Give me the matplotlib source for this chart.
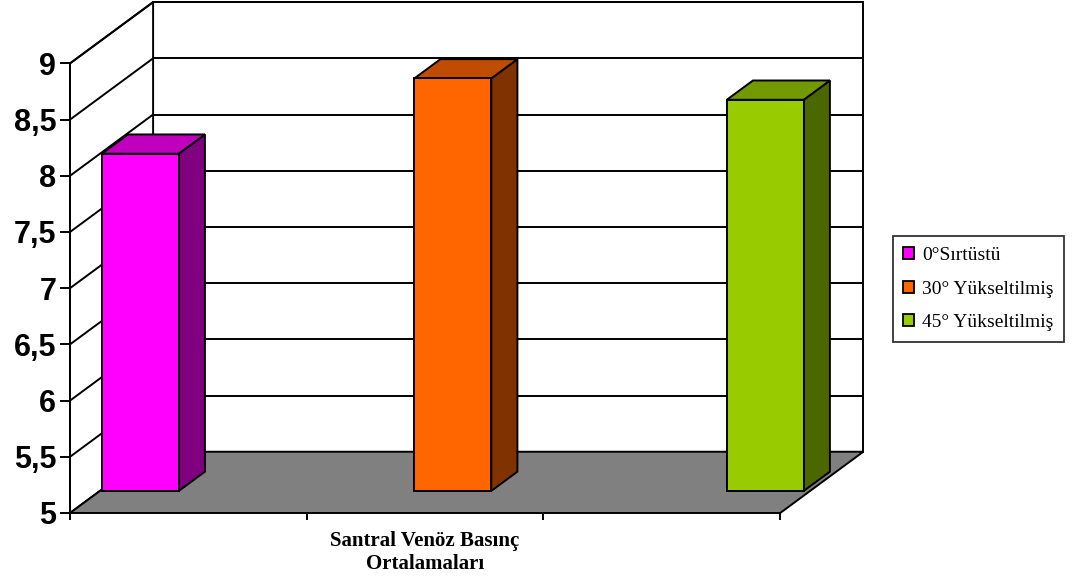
import matplotlib
matplotlib.use("Agg")
import matplotlib.pyplot as plt
from matplotlib.patches import Polygon, Patch

# data
series = ["0°Sırtüstü", "30° Yükseltilmiş", "45° Yükseltilmiş"]
values = [8.0, 8.67, 8.48]
category_label = "Santral Venöz Basınç\nOrtalamaları"
yticks = [5, 5.5, 6, 6.5, 7, 7.5, 8, 8.5, 9]
ytick_labels = ["5", "5,5", "6", "6,5", "7", "7,5", "8", "8,5", "9"]

front_colors = ["#FF00FF", "#FF6600", "#99CC00"]
top_colors = ["#BF00BF", "#BF4C00", "#739900"]
side_colors = ["#800080", "#803300", "#4C6600"]

# layout of the fake 3d box (x in category units, y in value units)
VMIN, VMAX = 5, 9
XW = 3.0
DX, DV = 0.351, 0.545          # depth vector
BAR_D0, BAR_D1 = 0.36, 0.675   # bar depth range
BAR_W = 0.325
BAR_STEP = 1.32
BAR_START = 0.008
LW = 1.4


def proj(x, v, d):
    return (x + d * DX, v + d * DV)


def poly(ax, pts, fc, z):
    ax.add_patch(Polygon([proj(*p) for p in pts], closed=True, facecolor=fc,
                         edgecolor="black", lw=LW, joinstyle="miter", zorder=z))


def line(ax, p1, p2, z=2, lw=LW):
    a, b = proj(*p1), proj(*p2)
    ax.plot([a[0], b[0]], [a[1], b[1]], color="black", lw=lw, zorder=z,
            solid_capstyle="butt")


fig = plt.figure(figsize=(10.82, 5.77), dpi=100)
ax = fig.add_axes([0, 0, 1, 1])
ax.set_xlim(-0.2957, 4.2748)
ax.set_ylim(4.4306, 9.564)
ax.axis("off")

# walls and floor
poly(ax, [(0, VMIN, 1), (XW, VMIN, 1), (XW, VMAX, 1), (0, VMAX, 1)], "white", 1)
poly(ax, [(0, VMIN, 0), (0, VMIN, 1), (0, VMAX, 1), (0, VMAX, 0)], "white", 1)
for v in yticks[1:]:
    line(ax, (0, v, 0), (0, v, 1))
    line(ax, (0, v, 1), (XW, v, 1))
poly(ax, [(0, VMIN, 0), (XW, VMIN, 0), (XW, VMIN, 1), (0, VMIN, 1)], "#808080", 3)

# value axis + ticks
line(ax, (0, VMIN, 0), (0, VMAX, 0), z=3)
for v, lab in zip(yticks, ytick_labels):
    line(ax, (-0.042, v, 0), (0, v, 0), z=3)
    ax.text(-0.058, v, lab, ha="right", va="center_baseline", fontsize=22,
            fontweight="bold", family="Liberation Sans")

# category ticks
for x in range(4):
    line(ax, (x, VMIN - 0.065, 0), (x, VMIN, 0), z=3)
ax.text(XW / 2, VMIN - 0.35, category_label, ha="center", va="center",
        fontsize=15, fontweight="bold", family="Liberation Serif",
        linespacing=1.2)

# bars
for i, v in enumerate(values):
    L = BAR_START + i * BAR_STEP
    R = L + BAR_W
    z = 5 + i
    poly(ax, [(R, VMIN, BAR_D0), (R, VMIN, BAR_D1), (R, v, BAR_D1), (R, v, BAR_D0)],
         side_colors[i], z)
    poly(ax, [(L, v, BAR_D0), (R, v, BAR_D0), (R, v, BAR_D1), (L, v, BAR_D1)],
         top_colors[i], z)
    poly(ax, [(L, VMIN, BAR_D0), (R, VMIN, BAR_D0), (R, v, BAR_D0), (L, v, BAR_D0)],
         front_colors[i], z)

handles = [Patch(facecolor=c, edgecolor="black", lw=1.3) for c in front_colors]
leg = ax.legend(handles, series, loc="center left", bbox_to_anchor=(0.825, 0.499),
                bbox_transform=fig.transFigure, frameon=True, fancybox=False,
                prop={"family": "Liberation Serif", "size": 14},
                handlelength=0.55, handleheight=0.55, handletextpad=0.4,
                labelspacing=0.85, borderpad=0.55, borderaxespad=0)
leg.get_frame().set_edgecolor("black")
leg.get_frame().set_linewidth(1.3)

fig.savefig("out.png", dpi=100)
